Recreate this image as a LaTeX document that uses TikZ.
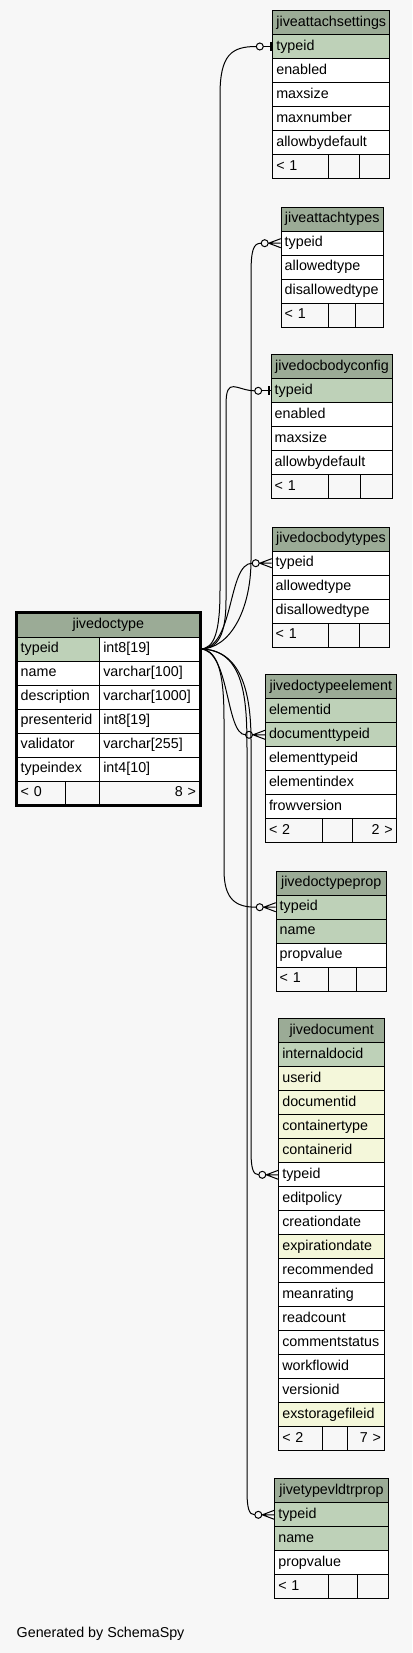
\documentclass[tikz,border=0pt]{standalone}
\usepackage{fontspec}
\setmainfont{Liberation Sans}
\usetikzlibrary{calc}
\definecolor{bg}{HTML}{F7F7F7}
\definecolor{hdr}{HTML}{9BAB96}
\definecolor{key}{HTML}{BED1B8}
\definecolor{idx}{HTML}{F4F7DA}
\tikzset{
  cell/.style={draw=black, line width=1pt, anchor=north west, minimum height=24pt,
    inner xsep=3.5pt, inner ysep=0pt, align=left, text height=10.3pt, text depth=3.2pt,
    font=\fontsize{14.3}{16}\selectfont},
  edge/.style={draw=black, line width=1pt},
}
\newcommand\dbrow[6]{%
  \pgfmathsetmacro\tw{#4-7}%
  \node[cell, fill=#5, text width=\tw pt] (#1) at (#2,{#3}) {#6};%
}
\newcommand\dbrowr[6]{%
  \pgfmathsetmacro\tw{#4-7}%
  \node[cell, fill=#5, text width=\tw pt, align=right] (#1) at (#2,{#3}) {#6};%
}
\newcommand\dbhead[5]{%
  \pgfmathsetmacro\tw{#4-7}%
  \node[cell, fill=hdr, text width=\tw pt, align=center] (#1-h) at (#2,{#3}) {#5};%
}
\newcommand\dbfoot[8]{%
  \pgfmathsetmacro\wa{#4-#2}\pgfmathsetmacro\wb{#5-#4}\pgfmathsetmacro\wc{#6-#5}%
  \dbrow{#1-fa}{#2}{#3}{\wa}{bg}{#7}%
  \dbrow{#1-fb}{#4}{#3}{\wb}{bg}{}%
  \dbrowr{#1-fc}{#5}{#3}{\wc}{bg}{#8}%
}
\newcommand\crowend[1]{%
  \draw[edge] ($(#1.west)+(-12,0)$) -- ($(#1.west)+(0,4.5)$)
    ($(#1.west)+(-12,0)$) -- ($(#1.west)+(0,-4.5)$)
    ($(#1.west)+(-12.5,0)$) -- (#1.west);
  \draw[edge, fill=bg] ($(#1.west)+(-16,0)$) circle (3.5pt);
}
\newcommand\teeend[1]{%
  \draw[edge] ($(#1.west)+(-9,0)$) -- (#1.west);
  \draw[black, line width=2.2pt] ($(#1.west)+(-1.6,-4.5)$) -- ($(#1.west)+(-1.6,4.5)$);
  \draw[edge, fill=bg] ($(#1.west)+(-12.5,0)$) circle (3.5pt);
}
\begin{document}
\begin{tikzpicture}[x=1pt,y=-1pt]
\fill[bg] (0,0) rectangle (412,1653);
\useasboundingbox (0,0) rectangle (412,1653);

% jiveattachsettings
\dbhead{as}{272.3}{10}{117}{jiveattachsettings}
\foreach \t/\f [count=\i] in {typeid/key,enabled/white,maxsize/white,maxnumber/white,allowbydefault/white}
  {\dbrow{as-\i}{272.3}{10+24*\i}{117}{\f}{\t}}
\dbfoot{as}{272.3}{154}{327.7}{358.7}{389.3}{< 1}{}

% jiveattachtypes
\dbhead{at}{280.7}{206.7}{102}{jiveattachtypes}
\foreach \t/\f [count=\i] in {typeid/white,allowedtype/white,disallowedtype/white}
  {\dbrow{at-\i}{280.7}{206.7+24*\i}{102}{\f}{\t}}
\dbfoot{at}{280.7}{302.7}{327.7}{355}{382.7}{< 1}{}

% jivedocbodyconfig
\dbhead{bc}{270.7}{354.3}{121.6}{jivedocbodyconfig}
\foreach \t/\f [count=\i] in {typeid/key,enabled/white,maxsize/white,allowbydefault/white}
  {\dbrow{bc-\i}{270.7}{354.3+24*\i}{121.6}{\f}{\t}}
\dbfoot{bc}{270.7}{474.3}{327.7}{360}{392.3}{< 1}{}

% jivedocbodytypes
\dbhead{bt}{271.7}{526.7}{117.6}{jivedocbodytypes}
\foreach \t/\f [count=\i] in {typeid/white,allowedtype/white,disallowedtype/white}
  {\dbrow{bt-\i}{271.7}{526.7+24*\i}{117.6}{\f}{\t}}
\dbfoot{bt}{271.7}{622.7}{327.7}{358.7}{389.3}{< 1}{}

% jivedoctypeelement
\dbhead{te}{265}{674.3}{130.7}{jivedoctypeelement}
\foreach \t/\f [count=\i] in {elementid/key,documenttypeid/key,elementtypeid/white,elementindex/white,frowversion/white}
  {\dbrow{te-\i}{265}{674.3+24*\i}{130.7}{\f}{\t}}
\dbfoot{te}{265}{818.3}{321.7}{351.7}{395.7}{< 2}{2 >}

% jivedoctypeprop
\dbhead{tp}{275.7}{870.7}{110}{jivedoctypeprop}
\foreach \t/\f [count=\i] in {typeid/key,name/key,propvalue/white}
  {\dbrow{tp-\i}{275.7}{870.7+24*\i}{110}{\f}{\t}}
\dbfoot{tp}{275.7}{966.7}{327.7}{356}{385.7}{< 1}{}

% jivedocument
\dbhead{doc}{278.3}{1018.3}{105.7}{jivedocument}
\foreach \t/\f [count=\i] in {internaldocid/key,userid/idx,documentid/idx,containertype/idx,containerid/idx,typeid/white,editpolicy/white,creationdate/white,expirationdate/idx,recommended/white,meanrating/white,readcount/white,commentstatus/white,workflowid/white,versionid/white,exstoragefileid/idx}
  {\dbrow{doc-\i}{278.3}{1018.3+24*\i}{105.7}{\f}{\t}}
\dbfoot{doc}{278.3}{1426.3}{322.3}{346.7}{384}{< 2}{7 >}

% jivetypevldtrprop
\dbhead{vp}{274.3}{1478.3}{113.4}{jivetypevldtrprop}
\foreach \t/\f [count=\i] in {typeid/key,name/key,propvalue/white}
  {\dbrow{vp-\i}{274.3}{1478.3+24*\i}{113.4}{\f}{\t}}
\dbfoot{vp}{274.3}{1574.3}{327.7}{357.3}{387.7}{< 1}{}

% jivedoctype (main)
\dbhead{dt}{16.7}{612.5}{182.3}{jivedoctype}
\foreach \a/\b/\f [count=\i] in {typeid/int8[19]/key,name/varchar[100]/white,description/varchar[1000]/white,presenterid/int8[19]/white,validator/varchar[255]/white,typeindex/int4[10]/white}
  {\dbrow{dt-n\i}{16.7}{612.5+24*\i}{82.6}{\f}{\a}
   \dbrow{dt-t\i}{99.3}{612.5+24*\i}{99.7}{white}{\b}}
\dbfoot{dt}{16.7}{780.5}{65}{99.3}{199}{< 0}{8 >}
\draw[line width=3pt] (dt-h.north west) rectangle (dt-fc.south east);

% connectors
\draw[edge] (dt-t1.east) .. controls +(15,0) and +(0,40) .. (220,590) -- (220,95)
  .. controls +(0,-40) and +(-25,0) .. ($(as-1.west)+(-16,0)$);
\teeend{as-1}
\draw[edge] (dt-t1.east) .. controls +(30,0) and +(0,50) .. (251,560) -- (251,275)
  .. controls +(0,-25) and +(-8,0) .. ($(at-1.west)+(-19.5,0)$);
\crowend{at-1}
\draw[edge] (dt-t1.east) .. controls +(18,0) and +(0,35) .. (226,600) -- (226,405)
  .. controls +(0,-30) and +(-18,0) .. ($(bc-1.west)+(-16,0)$);
\teeend{bc-1}
\draw[edge] (dt-t1.east) .. controls +(35,0) and +(-25,0) .. ($(bt-1.west)+(-19.5,0)$);
\crowend{bt-1}
\draw[edge] (dt-t1.east) .. controls +(30,0) and +(-20,0) .. ($(te-2.west)+(-19.5,0)$);
\crowend{te-2}
\draw[edge] (dt-t1.east) .. controls +(20,0) and +(0,-40) .. (224,720) -- (224,870)
  .. controls +(0,30) and +(-20,0) .. ($(tp-1.west)+(-19.5,0)$);
\crowend{tp-1}
\draw[edge] (dt-t1.east) .. controls +(40,0) and +(0,-50) .. (251,740) -- (251,1150)
  .. controls +(0,18) and +(-6,0) .. ($(doc-6.west)+(-19.5,0)$);
\crowend{doc-6}
\draw[edge] (dt-t1.east) .. controls +(45,0) and +(0,-50) .. (247,750) -- (247,1490)
  .. controls +(0,18) and +(-6,0) .. ($(vp-1.west)+(-19.5,0)$);
\crowend{vp-1}

\node[anchor=base west, inner sep=0pt, font=\fontsize{14.3}{16}\selectfont] (gen) at (16.5,1637.5) {Generated by SchemaSpy};
\end{tikzpicture}
\end{document}
